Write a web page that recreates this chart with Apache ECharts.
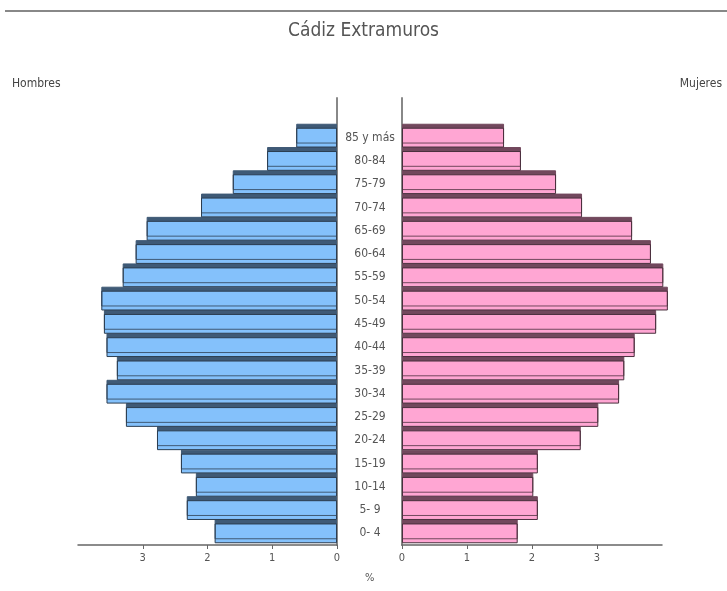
<!DOCTYPE html>
<html>
<head>
<meta charset="utf-8">
<script src="https://cdn.jsdelivr.net/npm/echarts@6/dist/echarts.min.js"></script>
<style>
html,body{margin:0;padding:0;background:#fff;}
#chart{width:727px;height:591px;}
</style>
</head>
<body>
<div id="chart"></div>
<script>
// Age groups, bottom to top
var categories = ['0- 4','5- 9','10-14','15-19','20-24','25-29','30-34','35-39','40-44','45-49','50-54','55-59','60-64','65-69','70-74','75-79','80-84','85 y más'];
// Percent of population
var hombres = [1.89, 2.32, 2.18, 2.41, 2.78, 3.26, 3.56, 3.40, 3.56, 3.60, 3.64, 3.31, 3.11, 2.94, 2.10, 1.61, 1.08, 0.63];
var mujeres = [1.78, 2.09, 2.02, 2.09, 2.75, 3.02, 3.34, 3.42, 3.58, 3.91, 4.09, 4.02, 3.83, 3.54, 2.77, 2.37, 1.83, 1.57];
var tickValues = [0, 1, 2, 3];

var FONT = "'Liberation Sans Narrow', 'DejaVu Sans Condensed', 'Liberation Sans', sans-serif";
var chart = echarts.init(document.getElementById('chart'), null, {renderer: 'canvas'});

function xAxisCfg(gridIndex, inverse) {
  return {
    type: 'value', gridIndex: gridIndex, inverse: inverse, min: 0, max: 4, interval: 1,
    splitLine: {show: false},
    axisLine: {show: true, onZero: false, lineStyle: {color: '#666', width: 1.5}},
    axisTick: {show: true, length: 4, lineStyle: {color: '#666'}, customValues: tickValues},
    axisLabel: {show: true, color: '#555', fontFamily: FONT, fontSize: 11, margin: 8, customValues: tickValues}
  };
}
function hiddenX(gridIndex) {
  return {type: 'value', gridIndex: gridIndex, min: 0, max: 1, show: false,
    axisLine: {show: false, onZero: false}};
}
function lineOnlyY(gridIndex, position) {
  return {
    type: 'value', gridIndex: gridIndex, position: position, min: 0, max: 1,
    splitLine: {show: false}, axisTick: {show: false}, axisLabel: {show: false},
    axisLine: {show: true, onZero: false, lineStyle: {color: '#888', width: 2}}
  };
}

chart.setOption({
  animation: false,
  backgroundColor: '#fff',
  title: {
    text: 'Cádiz Extramuros', left: 'center', top: 17,
    textStyle: {fontFamily: FONT, fontWeight: 'normal', fontSize: 19, color: '#555'}
  },
  graphic: [
    {type: 'line', shape: {x1: 5, y1: 11, x2: 727, y2: 11}, style: {stroke: '#888', lineWidth: 2}},
    {type: 'text', left: 12, top: 78, style: {text: 'Hombres', font: '12px ' + FONT, fill: '#444'}},
    {type: 'text', right: 5, top: 78, style: {text: 'Mujeres', font: '12px ' + FONT, fill: '#444'}},
    {type: 'text', left: 365, top: 573, style: {text: '%', font: '11px ' + FONT, fill: '#555'}}
  ],
  grid: [
    {left: 78, right: 390, top: 126, bottom: 46},
    {left: 402, right: 65, top: 126, bottom: 46},
    {left: 78, right: 390, top: 98, bottom: 46},
    {left: 402, right: 65, top: 98, bottom: 46}
  ],
  xAxis: [xAxisCfg(0, true), xAxisCfg(1, false), hiddenX(2), hiddenX(3)],
  yAxis: [
    {
      type: 'category', gridIndex: 0, data: categories, position: 'right',
      axisLine: {show: false, onZero: false},
      axisTick: {show: false},
      axisLabel: {show: true, align: 'center', margin: 33, color: '#555', fontFamily: FONT, fontSize: 12, interval: 0}
    },
    {
      type: 'category', gridIndex: 1, data: categories, position: 'left',
      axisLine: {show: false, onZero: false},
      axisTick: {show: false},
      axisLabel: {show: false}
    },
    lineOnlyY(2, 'right'),
    lineOnlyY(3, 'left')
  ],
  series: [
    {
      name: 'Hombres', type: 'bar', xAxisIndex: 0, yAxisIndex: 0, data: hombres,
      barCategoryGap: '15%', clip: false, z: 1,
      itemStyle: {color: '#84c1fb', borderColor: '#2b3d50', borderWidth: 1,
        shadowColor: '#3f5a76', shadowBlur: 0, shadowOffsetY: -4}
    },
    {
      name: 'Mujeres', type: 'bar', xAxisIndex: 1, yAxisIndex: 1, data: mujeres,
      barCategoryGap: '15%', clip: false, z: 1,
      itemStyle: {color: '#ffa6d3', borderColor: '#4a2f3d', borderWidth: 1,
        shadowColor: '#72485d', shadowBlur: 0, shadowOffsetY: -4}
    }
  ]
});
</script>
</body>
</html>
